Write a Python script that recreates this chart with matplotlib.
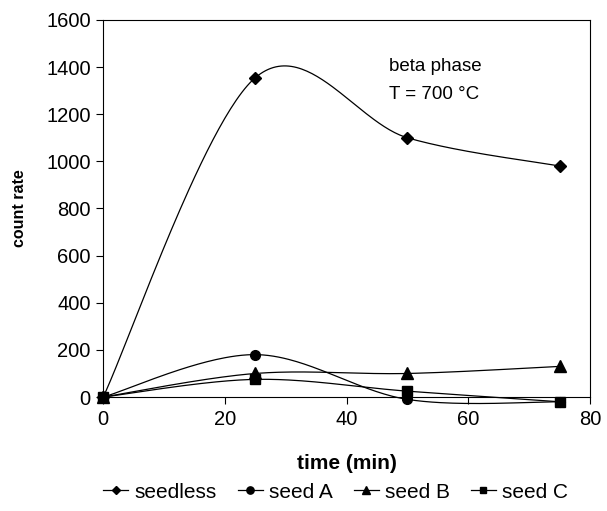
import matplotlib
matplotlib.use("Agg")
import matplotlib.pyplot as plt
import numpy as np

plt.rcParams["font.family"] = ["Liberation Sans", "DejaVu Sans"]

# sampling times (min) and count rates per sample
time = [0, 25, 50, 75]
seedless = [0, 1355, 1100, 980]
seed_a = [0, 180, -10, -20]
seed_b = [0, 100, 100, 130]
seed_c = [0, 75, 25, -20]

SERIES = [
    ("seedless", seedless, "D", 6),
    ("seed A", seed_a, "o", 7),
    ("seed B", seed_b, "^", 8),
    ("seed C", seed_c, "s", 6.5),
]


def smooth(x, y, n=60):
    """Spreadsheet-style smoothed line: cubic Bezier segments with
    Catmull-Rom tangents (tension 1/6), end points repeated."""
    p = np.column_stack([x, y]).astype(float)
    ext = np.vstack([p[0], p, p[-1]])
    t = np.linspace(0, 1, n)[:, None]
    out = []
    for i in range(len(p) - 1):
        p0, p3 = ext[i + 1], ext[i + 2]
        c1 = p0 + (ext[i + 2] - ext[i]) / 6
        c2 = p3 - (ext[i + 3] - ext[i + 1]) / 6
        seg = ((1 - t) ** 3 * p0 + 3 * (1 - t) ** 2 * t * c1
               + 3 * (1 - t) * t ** 2 * c2 + t ** 3 * p3)
        out.append(seg if i == 0 else seg[1:])
    out = np.vstack(out)
    return out[:, 0], out[:, 1]


fig = plt.figure(figsize=(6.07, 5.11), dpi=100)
ax = fig.add_axes([0.170, 0.223, 0.802, 0.738])

handles = []
for label, vals, marker, ms in SERIES:
    sx, sy = smooth(time, vals)
    ax.plot(sx, sy, color="black", lw=0.9, clip_on=False, zorder=2)
    ax.plot(time, vals, ls="none", marker=marker, ms=ms, color="black",
            clip_on=False, zorder=3)
    h, = ax.plot([], [], color="black", lw=0.9, marker=marker, ms=ms * 0.75,
                 label=label)
    handles.append(h)

ax.set_xlim(0, 80)
ax.set_ylim(0, 1600)
ax.set_xticks(np.arange(0, 81, 20))
ax.set_yticks(np.arange(0, 1601, 200))
ax.tick_params(direction="out", length=5, width=0.8, labelsize=14.5, pad=4)
for s in ax.spines.values():
    s.set_linewidth(0.8)

ax.set_xlabel("time (min)", fontsize=15, fontweight="bold", labelpad=18)
ax.set_ylabel("count rate", fontsize=11.5, fontweight="bold", labelpad=14)

ax.text(0.588, 0.9, "beta phase\nT = 700 °C", transform=ax.transAxes,
        fontsize=13.5, va="top", ha="left", linespacing=1.9)

fig.legend(handles=handles, loc="center", bbox_to_anchor=(0.553, 0.037),
           ncol=4, frameon=False, fontsize=15, handlelength=1.2,
           handletextpad=0.3, columnspacing=1.0)

fig.savefig("out.png", dpi=100)
